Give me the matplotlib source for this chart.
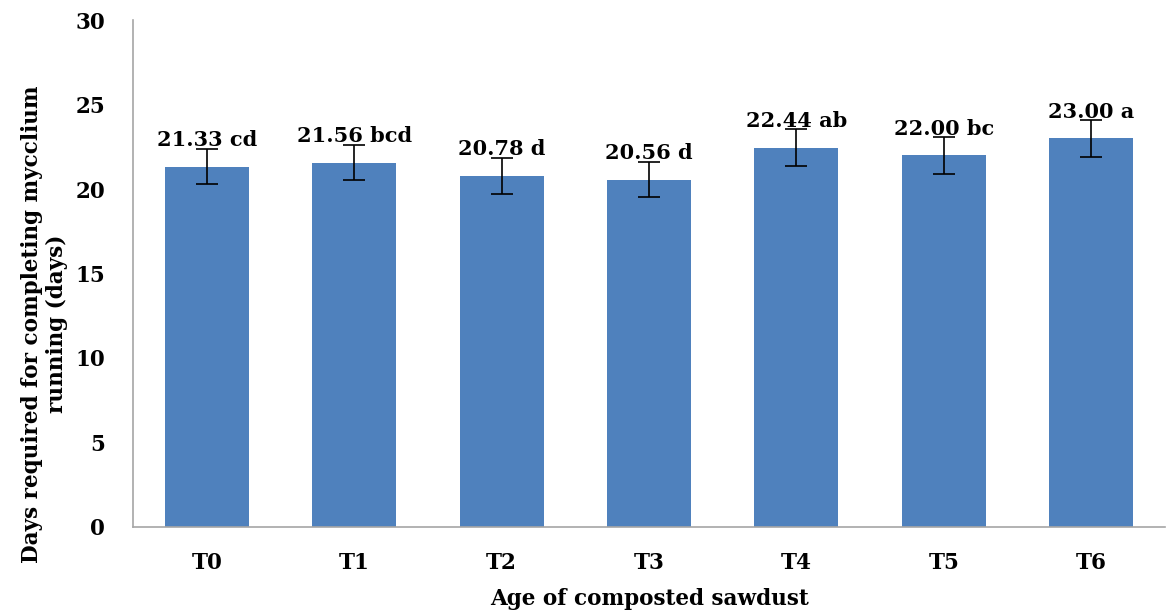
import matplotlib.pyplot as plt
import numpy as np

# --- Data ---
treatments = ['T0', 'T1', 'T2', 'T3', 'T4', 'T5', 'T6']
days = [21.33, 21.56, 20.78, 20.56, 22.44, 22.00, 23.00]
errors = [1.05, 1.05, 1.05, 1.05, 1.1, 1.1, 1.1]
letters = ['cd', 'bcd', 'd', 'd', 'ab', 'bc', 'a']

plt.rcParams['font.family'] = 'DejaVu Serif'
plt.rcParams['font.weight'] = 'bold'

fig = plt.figure(figsize=(11.69, 6.16), dpi=100)
ax = fig.add_axes([0.1138, 0.1445, 0.8828, 0.823])

x = np.arange(len(treatments))
ax.bar(x, days, width=0.57, color='#4F81BD', zorder=2)
ax.errorbar(x, days, yerr=errors, fmt='none', ecolor='black',
            elinewidth=1.2, capsize=8, capthick=1.2, zorder=3)

# value + letter labels above each bar
for xi, d, l in zip(x, days, letters):
    ax.annotate(f'{d:.2f} {l}', (xi, d), xytext=(0, 12), textcoords='offset points',
                ha='center', va='bottom', fontsize=15, fontweight='bold')

ax.set_xlim(-0.5, 6.5)
ax.set_ylim(0, 30)
ax.set_yticks(range(0, 31, 5))
ax.set_xticks(x)
ax.set_xticklabels(treatments)
ax.tick_params(axis='both', length=0, labelsize=15.5)
ax.tick_params(axis='x', pad=18)
ax.tick_params(axis='y', pad=20)

for s in ['top', 'right']:
    ax.spines[s].set_visible(False)
for s in ['left', 'bottom']:
    ax.spines[s].set_color('#A6A6A6')
    ax.spines[s].set_linewidth(1.2)

ax.set_xlabel('Age of composted sawdust', fontsize=15.5, fontweight='bold', labelpad=10)
ax.set_ylabel('Days required for completing mycclium\nrunning (days)',
              fontsize=15.5, fontweight='bold', linespacing=1.15)
ax.yaxis.set_label_coords(-0.063, 0.40)

fig.savefig('out.png', dpi=100)
